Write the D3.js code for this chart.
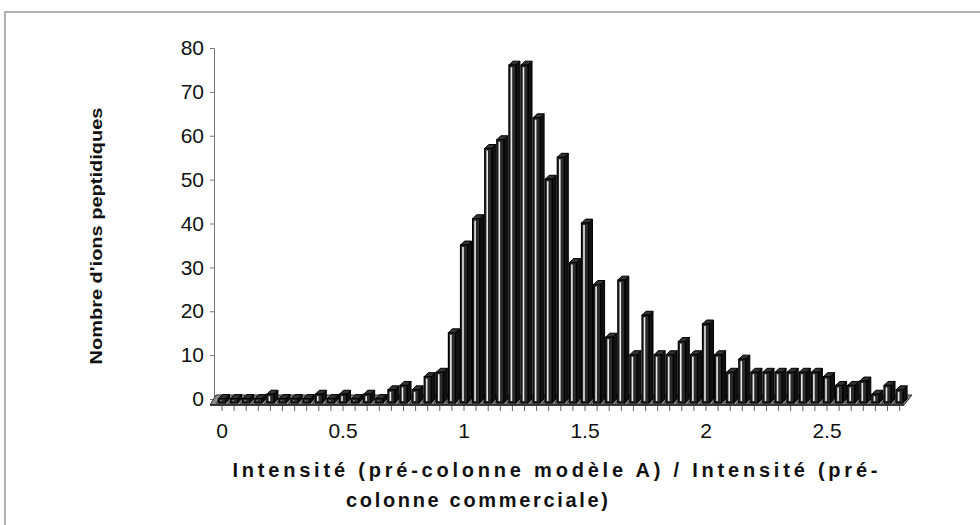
<!DOCTYPE html>
<html>
<head>
<meta charset="utf-8">
<script src="https://cdn.jsdelivr.net/npm/d3@7"></script>
<style>
  body { margin: 0; background: #fff; }
  text { font-family: "Liberation Sans", Arial, sans-serif; fill: #111; }
</style>
</head>
<body>
<div id="chart"></div>
<script>
// ratio categories (x) and number of peptide ions (y)
var ratios = [0, 0.05, 0.1, 0.15, 0.2, 0.25, 0.3, 0.35, 0.4, 0.45,
              0.5, 0.55, 0.6, 0.65, 0.7, 0.75, 0.8, 0.85, 0.9, 0.95,
              1, 1.05, 1.1, 1.15, 1.2, 1.25, 1.3, 1.35, 1.4, 1.45,
              1.5, 1.55, 1.6, 1.65, 1.7, 1.75, 1.8, 1.85, 1.9, 1.95,
              2, 2.05, 2.1, 2.15, 2.2, 2.25, 2.3, 2.35, 2.4, 2.45,
              2.5, 2.55, 2.6, 2.65, 2.7, 2.75, 2.8];
var counts = [1, 1, 1, 1, 2, 1, 1, 1, 2, 1,
              2, 1, 2, 1, 3, 4, 3, 6, 7, 16,
              36, 42, 58, 60, 77, 77, 65, 51, 56, 32,
              41, 27, 15, 28, 11, 20, 11, 11, 14, 11,
              18, 11, 7, 10, 7, 7, 7, 7, 7, 7,
              6, 4, 4, 5, 2, 4, 3];
var yTicks = [0, 10, 20, 30, 40, 50, 60, 70, 80];
var xTicks = [0, 0.5, 1, 1.5, 2, 2.5];
var yTitle = "Nombre d'ions peptidiques";
var xTitle1 = "Intensité (pré-colonne modèle A) / Intensité (pré-";
var xTitle2 = "colonne commerciale)";

var width = 980, height = 525;
var d = 4; // 3d depth offset

var svg = d3.select("#chart").append("svg")
    .attr("width", width)
    .attr("height", height);

// frame
svg.append("path")
  .attr("d", "M5,525 L5,12 L980,12")
  .attr("fill", "none")
  .attr("stroke", "#999")
  .attr("stroke-width", 1.5);

var x = d3.scaleLinear().domain([0, 2.5]).range([222, 827]);
var y = d3.scaleLinear().domain([0, 80]).range([399, 48]);

// y axis (back wall edge)
var yAxis = d3.axisLeft(y).tickValues(yTicks).tickSize(4).tickPadding(6);
var gy = svg.append("g")
  .attr("transform", "translate(214,0)")
  .call(yAxis);
gy.select(".domain").attr("stroke", "#777");
gy.selectAll(".tick line").attr("stroke", "#777");
gy.selectAll("text")
  .style("font-size", "21px")
  .style("font-family", "Liberation Sans, Arial, sans-serif")
  .attr("fill", "#111");

// floor
var x0 = 210, x1 = 904;
svg.append("polygon")
  .attr("points", [[x0, 405], [x1, 405], [x1 + 8, 395], [x0 + 6, 395]].join(" "))
  .attr("fill", "#8c8c8c")
  .attr("stroke", "#333")
  .attr("stroke-width", 1);

// floor hatching
svg.append("g").selectAll("line")
  .data(ratios)
  .enter().append("line")
  .attr("x1", function(r) { return x(r) - 6; })
  .attr("x2", function(r) { return x(r) - 1; })
  .attr("y1", 404)
  .attr("y2", 396)
  .attr("stroke", "#444")
  .attr("stroke-width", 1.2);

// x axis ticks under each category
svg.append("g").selectAll("line")
  .data(ratios)
  .enter().append("line")
  .attr("x1", function(r) { return x(r); })
  .attr("x2", function(r) { return x(r); })
  .attr("y1", 405)
  .attr("y2", 411)
  .attr("stroke", "#666")
  .attr("stroke-width", 1);
svg.append("line")
  .attr("x1", x0).attr("x2", x1)
  .attr("y1", 405).attr("y2", 405)
  .attr("stroke", "#222").attr("stroke-width", 1.5);

// x tick labels
svg.append("g").selectAll("text")
  .data(xTicks)
  .enter().append("text")
  .attr("x", function(t) { return x(t); })
  .attr("y", 438)
  .attr("text-anchor", "middle")
  .style("font-size", "21px")
  .text(function(t) { return t; });

// bars (3d columns)
var bw = 7;
var bars = svg.append("g").selectAll("g")
  .data(ratios)
  .enter().append("g")
  .attr("transform", function(r) { return "translate(" + (x(r) - bw / 2) + ",0)"; });

bars.append("polygon") // side face
  .attr("points", function(r, i) {
    var top = y(counts[i]);
    return [[bw, top + d], [bw + d, top], [bw + d, 399], [bw, 403]].join(" ");
  })
  .attr("fill", "#111")
  .attr("stroke", "#000")
  .attr("stroke-width", 1);

bars.append("polygon") // top face
  .attr("points", function(r, i) {
    var top = y(counts[i]);
    return [[0, top + d], [d, top], [bw + d, top], [bw, top + d]].join(" ");
  })
  .attr("fill", "#333")
  .attr("stroke", "#000")
  .attr("stroke-width", 1);

bars.append("rect") // front face
  .attr("x", 0)
  .attr("y", function(r, i) { return y(counts[i]) + d; })
  .attr("width", bw)
  .attr("height", function(r, i) { return 403 - (y(counts[i]) + d); })
  .attr("fill", "#2a2a2a")
  .attr("stroke", "#000")
  .attr("stroke-width", 1.2);

bars.append("line") // highlight stripe
  .attr("x1", 2.5).attr("x2", 2.5)
  .attr("y1", function(r, i) { return y(counts[i]) + d + 2; })
  .attr("y2", 401)
  .attr("stroke", "#e8e8e8")
  .attr("stroke-width", 1.6);

// axis titles
svg.append("text")
  .attr("transform", "translate(102,236) rotate(-90)")
  .attr("text-anchor", "middle")
  .attr("textLength", 257)
  .attr("lengthAdjust", "spacingAndGlyphs")
  .style("font-size", "17px")
  .style("font-weight", "bold")
  .text(yTitle);

svg.append("text")
  .attr("x", 555)
  .attr("y", 477)
  .attr("text-anchor", "middle")
  .attr("textLength", 645)
  .attr("lengthAdjust", "spacing")
  .style("font-size", "20px")
  .style("font-weight", "bold")
  .text(xTitle1);

svg.append("text")
  .attr("x", 477)
  .attr("y", 507)
  .attr("text-anchor", "middle")
  .attr("textLength", 262)
  .attr("lengthAdjust", "spacing")
  .style("font-size", "20px")
  .style("font-weight", "bold")
  .text(xTitle2);
</script>
</body>
</html>
